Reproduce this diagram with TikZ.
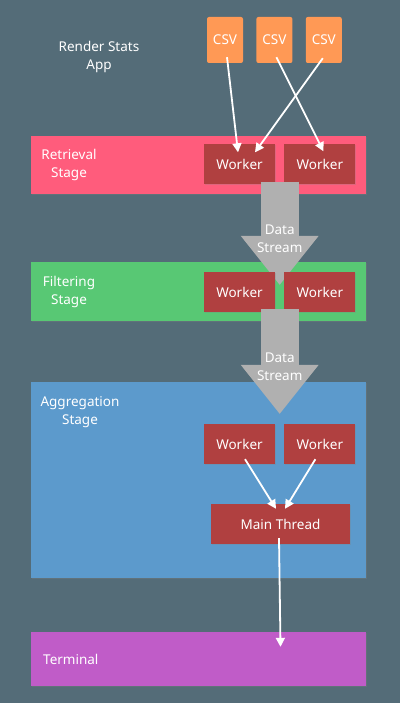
\documentclass[tikz,border=0pt]{standalone}
\usepackage{fontspec}
\setmainfont{Noto Sans}
\usepackage{tikz}
\usetikzlibrary{positioning,calc,arrows.meta,shadows}
\definecolor{slate}{RGB}{84,108,120}
\definecolor{retpink}{RGB}{255,92,124}
\definecolor{filtgreen}{RGB}{88,200,116}
\definecolor{aggblue}{RGB}{92,154,204}
\definecolor{termpurple}{RGB}{192,92,200}
\definecolor{workred}{RGB}{176,64,64}
\definecolor{csvorange}{RGB}{255,153,85}
\definecolor{streamgray}{RGB}{176,176,176}

\begin{document}
\begin{tikzpicture}[x=1pt, y=-1pt,
                    every node/.style = {font=\fontsize{13.5}{18}\selectfont, text=white},
                    stage/.style = {minimum width=335pt, inner sep=0pt, drop shadow={shadow xshift=.8pt, shadow yshift=-.8pt, opacity=.3}},
                    worker/.style = {fill=workred, minimum width=71pt, minimum height=40pt, inner sep=0pt, drop shadow={shadow xshift=.6pt, shadow yshift=-.6pt, opacity=.25}},
                    csv/.style = {fill=csvorange, rounded corners=2pt, minimum width=36pt, minimum height=46pt, inner sep=0pt},
                    stagetext/.style = {align=center, inner sep=0pt},
                    flow/.style = {draw=white, line width=1.8pt, -{Triangle[width=9pt, length=9pt]}},
                    stream/.style = {draw=streamgray, line width=38pt, -{Triangle[width=78pt, length=49pt, line width=0pt]}}
                ]

                \fill[slate] (0,0) rectangle (400,703);

                \node[stagetext] (title) at (99,57) {Render Stats\\App};
                \node[csv] (csv1) at (225,40) {CSV};
                \node[csv, right=13pt of csv1] (csv2) {CSV};
                \node[csv, right=13pt of csv2] (csv3) {CSV};

                % retrieval
                \node[stage, fill=retpink, minimum height=58pt] (retrieval) at (198.5,165) {};
                \node[stagetext] (retrievaltext) at (69,165) {Retrieval\\Stage};
                \node[worker] (rw1) at (239.5,164.5) {Worker};
                \node[worker, right=9pt of rw1] (rw2) {Worker};

                \draw[flow] ([xshift=2pt, yshift=6pt]csv1.south) -- ([xshift=-1.5pt, yshift=-8pt]rw1.north);
                \draw[flow] ([xshift=2pt, yshift=6pt]csv2.south) -- ([xshift=3.5pt, yshift=-7pt]rw2.north);
                \draw[flow] ([xshift=-1pt, yshift=5pt]csv3.south) -- ([xshift=15.5pt, yshift=-8pt]rw1.north);

                % filtering
                \node[stage, fill=filtgreen, minimum height=59pt] (filtering) at (198.5,291.5) {};
                \node[stagetext] (filteringtext) at (69,292) {Filtering\\Stage};

                \coordinate (rgap) at ($(rw1.south east)!.5!(rw2.south west)$);
                \draw[stream] ([yshift=3pt]rgap) -- ([yshift=-23pt]rgap |- filtering.north) node[stagetext, pos=.55]{Data\\Stream};

                \node[worker] (fw1) at (239.5,292) {Worker};
                \node[worker, right=9pt of fw1] (fw2) {Worker};

                % aggregation
                \node[stage, fill=aggblue, minimum height=196pt] (aggregation) at (198.5,480) {};
                \node[stagetext] (aggregationtext) at (80,412) {Aggregation\\Stage};
                \node[worker] (aw1) at (239.5,444) {Worker};
                \node[worker, right=9pt of aw1] (aw2) {Worker};
                \node[worker, minimum width=139pt] (main) at (280.5,524) {Main Thread};

                \coordinate (fgap) at ($(fw1.south east)!.5!(fw2.south west)$);
                \coordinate (agap) at ($(aw1.north east)!.5!(aw2.north west)$);
                \draw[stream] ([yshift=3pt]fgap) -- ([yshift=10pt]agap) node[stagetext, pos=.55]{Data\\Stream};

                \draw[flow] ([xshift=5.5pt, yshift=5pt]aw1.south) -- ([xshift=-4.5pt, yshift=-5pt]main.north);
                \draw[flow] ([xshift=-4.5pt, yshift=5pt]aw2.south) -- ([xshift=4.5pt, yshift=-5pt]main.north);

                % terminal
                \node[stage, fill=termpurple, minimum height=54pt] (terminal) at (198.5,659) {};
                \node[stagetext, anchor=west] (terminaltext) at (43,659) {Terminal};

                \draw[flow] ([xshift=-1.5pt, yshift=6pt]main.south) -- ([yshift=-15pt]main.south |- terminal.north);

            \end{tikzpicture}
\end{document}
